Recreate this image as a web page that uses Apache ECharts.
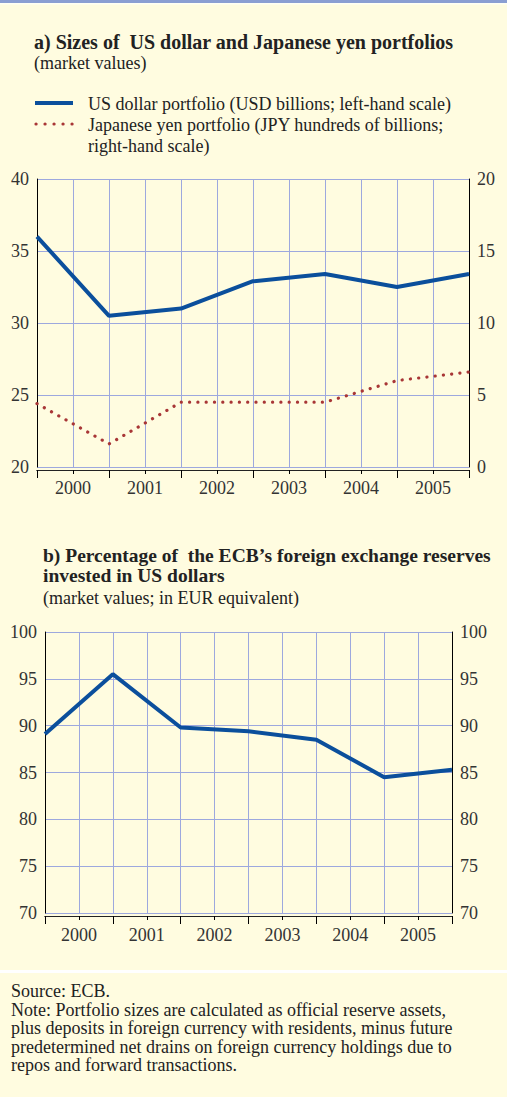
<!DOCTYPE html>
<html><head><meta charset="utf-8">
<script src="https://cdn.jsdelivr.net/npm/echarts@6/dist/echarts.min.js"></script>
<style>html,body{margin:0;padding:0;background:#FFFCE0;}#c{width:507px;height:1097px;}</style>
</head><body><div id="c"></div>
<script>
// ---- data ----
const yearStarts = [2000, 2001, 2002, 2003, 2004, 2005, 2006];
const yearLabels = ['2000', '2001', '2002', '2003', '2004', '2005'];
const usdPortfolio = [36.0, 30.5, 31.0, 32.9, 33.4, 32.5, 33.4];   // USD billions, left scale
const jpyPortfolio = [4.4, 1.6, 4.5, 4.5, 4.5, 6.0, 6.6];          // JPY hundreds of billions, right scale
const usdShare = [89.1, 95.5, 89.8, 89.4, 88.5, 84.5, 85.3];       // % of reserves in USD
const leftTicksA = [20, 25, 30, 35, 40];
const rightTicksA = [0, 5, 10, 15, 20];
const ticksB = [70, 75, 80, 85, 90, 95, 100];

// ---- style ----
const BG = '#FFFCE0', BLUE = '#0B4F9C', RED = '#A83636', GRID = '#9DA8DE', AXIS = '#000', TXT = '#222';
const FONT = 'Liberation Serif';
const lbl = { color: '#333', fontFamily: FONT, fontSize: 18, fontWeight: 'normal', fontStyle: 'normal' };
const gridLine = (show) => ({ show: show, lineStyle: { color: GRID, width: 1, type: 'solid', opacity: 1 } });

const pairs = (ys) => yearStarts.map((x, i) => [x, ys[i]]);
const midLabel = (v) => {
  const f = v - Math.floor(v);
  return Math.abs(f - 0.5) < 1e-6 ? yearLabels[Math.floor(v) - yearStarts[0]] : '';
};

function xAxes(gi, margin) {
  const mk = (extra) => Object.assign({ gridIndex: gi, type: 'value', min: yearStarts[0], max: yearStarts[yearStarts.length - 1],
    position: 'bottom', offset: 3, alignTicks: false,
    axisLine: { show: true, onZero: false, lineStyle: { color: '#222', width: 1, type: 'solid' } },
    minorTick: { show: false }, minorSplitLine: { show: false }, splitArea: { show: false } }, extra);
  return [
    mk({ interval: 0.5,
      axisTick: { show: true, length: 4, lineStyle: { color: AXIS, width: 1, type: 'solid' } },
      axisLabel: Object.assign({ formatter: midLabel, margin: margin, showMinLabel: true, showMaxLabel: true }, lbl),
      splitLine: gridLine(true) }),
    mk({ interval: 1,
      axisTick: { show: true, length: 8, lineStyle: { color: AXIS, width: 1, type: 'solid' } },
      axisLabel: { show: false }, splitLine: gridLine(false) })
  ];
}
function yAxis(gi, ticks, pos, split) {
  return { gridIndex: gi, type: 'value', position: pos, min: ticks[0], max: ticks[ticks.length - 1], interval: ticks[1] - ticks[0],
    alignTicks: false,
    axisLine: { show: true, lineStyle: { color: AXIS, width: 1, type: 'solid' } }, axisTick: { show: false },
    axisLabel: Object.assign({ margin: 8 }, lbl),
    minorTick: { show: false }, minorSplitLine: { show: false }, splitArea: { show: false },
    splitLine: gridLine(split) };
}
function txt(s, x, y, size, bold) {
  return { type: 'text', x: x, y: y, silent: true,
    style: { text: s, fontFamily: FONT, fontSize: size, fontWeight: bold ? 'bold' : 'normal',
      fill: TXT, align: 'left', verticalAlign: 'middle' } };
}

const chart = echarts.init(document.getElementById('c'), null, { renderer: 'svg' });
chart.setOption({
  backgroundColor: BG,
  animation: false,
  textStyle: { fontFamily: FONT },
  grid: [
    { left: 37, right: 38, top: 179, height: 288 },
    { left: 45, right: 55, top: 632, height: 281 }
  ],
  xAxis: [].concat(xAxes(0, 9), xAxes(1, 10)),
  yAxis: [
    yAxis(0, leftTicksA, 'left', true),
    yAxis(0, rightTicksA, 'right', false),
    yAxis(1, ticksB, 'left', true),
    yAxis(1, ticksB, 'right', false)
  ],
  series: [
    { name: 'US dollar portfolio (USD billions; left-hand scale)', type: 'line', xAxisIndex: 0, yAxisIndex: 0,
      data: pairs(usdPortfolio), showSymbol: false, symbol: 'none', lineStyle: { color: BLUE, width: 4 }, z: 3 },
    { name: 'Japanese yen portfolio (JPY hundreds of billions; right-hand scale)', type: 'line', xAxisIndex: 0, yAxisIndex: 1,
      data: pairs(jpyPortfolio), showSymbol: false, symbol: 'none',
      lineStyle: { color: RED, width: 3.2, type: [0.1, 8.2], cap: 'round' }, z: 3 },
    { name: 'Percentage invested in US dollars', type: 'line', xAxisIndex: 2, yAxisIndex: 2,
      data: pairs(usdShare), showSymbol: false, symbol: 'none', lineStyle: { color: BLUE, width: 4 }, z: 3 }
  ],
  graphic: [
    { type: 'rect', shape: { x: 0, y: 0, width: 507, height: 3 }, style: { fill: '#8A9ED2' }, silent: true },
    { type: 'rect', shape: { x: 0, y: 3, width: 507, height: 1.5 }, style: { fill: '#FFFFF4' }, silent: true },
    txt('a) Sizes of  US dollar and Japanese yen portfolios', 34, 42, 20, true),
    txt('(market values)', 34, 63, 18, false),
    { type: 'line', shape: { x1: 35, y1: 103, x2: 73, y2: 103 }, style: { stroke: BLUE, lineWidth: 4 }, silent: true },
    { type: 'line', shape: { x1: 36, y1: 124, x2: 73, y2: 124 }, style: { stroke: RED, lineWidth: 3.2, lineDash: [0.1, 8.9], lineCap: 'round' }, silent: true },
    txt('US dollar portfolio (USD billions; left-hand scale)', 88, 104, 18, false),
    txt('Japanese yen portfolio (JPY hundreds of billions;', 88, 125, 18, false),
    txt('right-hand scale)', 88, 145.5, 18, false),
    txt('b) Percentage of  the ECB\u2019s foreign exchange reserves', 43, 555, 19.5, true),
    txt('invested in US dollars', 43, 575, 19.5, true),
    txt('(market values; in EUR equivalent)', 43, 598, 18, false),
    { type: 'rect', shape: { x: 0, y: 970, width: 507, height: 3 }, style: { fill: '#FFFFFF' }, silent: true },
    txt('Source: ECB.', 11, 991, 18, false),
    txt('Note: Portfolio sizes are calculated as official reserve assets,', 11, 1009.5, 18, false),
    txt('plus deposits in foreign currency with residents, minus future', 11, 1028, 18, false),
    txt('predetermined net drains on foreign currency holdings due to', 11, 1046.5, 18, false),
    txt('repos and forward transactions.', 11, 1065, 18, false)
  ]
});
</script></body></html>
